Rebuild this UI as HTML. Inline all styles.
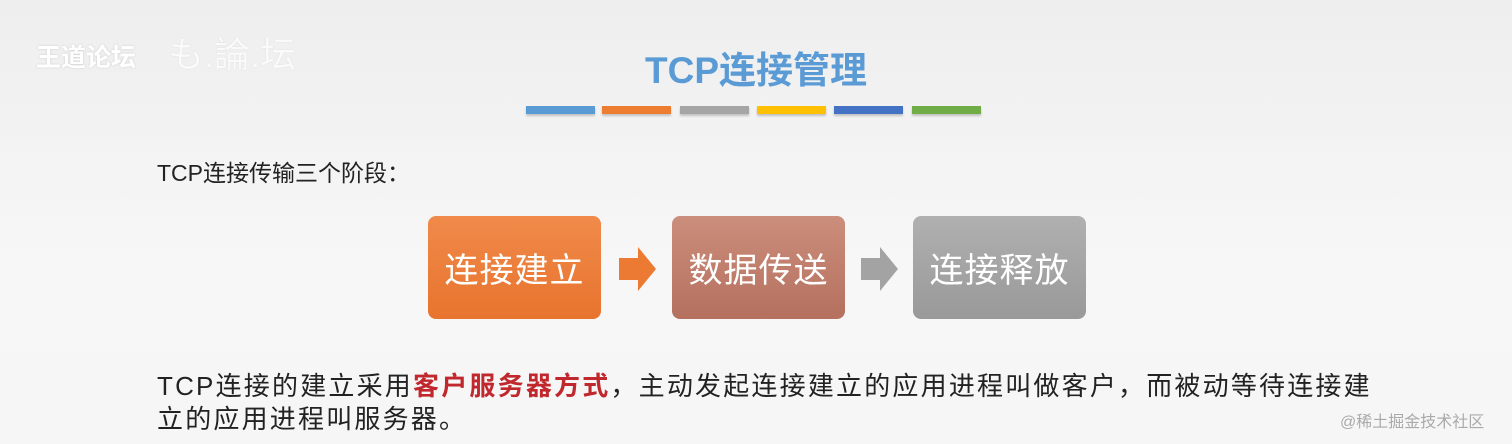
<!DOCTYPE html>
<html><head><meta charset="utf-8"><style>
body{margin:0;width:1512px;height:444px;background:linear-gradient(#eeeeee,#f7f7f7 60%,#f6f6f6);position:relative;overflow:hidden;font-family:"Liberation Sans","Noto Sans CJK SC",sans-serif;}
.a{position:absolute;white-space:nowrap;}
.bar{position:absolute;top:106px;height:8px;width:69px;box-shadow:0 2px 2px rgba(0,0,0,.2);}
.box{position:absolute;top:216px;width:173px;height:103px;border-radius:8px;color:#fff;font-size:34px;display:flex;align-items:center;justify-content:center;letter-spacing:1px;}
</style></head><body>
<div class="a" style="left:36px;top:38px;font-size:25px;color:#fff;font-weight:bold;text-shadow:0 0 2px #ccc;">王道论坛</div>
<div class="a" style="left:168px;top:26px;font-size:36px;color:#fafafa;text-shadow:0 0 1px #ccc;">も.論.坛</div>
<div class="a" style="left:645px;top:40px;font-size:37px;color:#5b9bd5;font-weight:bold;">TCP连接管理</div>
<div class="bar" style="left:526px;background:#5b9bd5"></div>
<div class="bar" style="left:602px;background:#ed7d31"></div>
<div class="bar" style="left:680px;background:#a5a5a5"></div>
<div class="bar" style="left:757px;background:#ffc000"></div>
<div class="bar" style="left:834px;background:#4472c4"></div>
<div class="bar" style="left:912px;background:#70ad47"></div>
<div class="a" style="left:157px;top:154px;font-size:23px;color:#222;">TCP连接传输三个阶段：</div>
<div class="box" style="left:428px;background:linear-gradient(#f08a4a,#e8742e);">连接建立</div>
<div class="box" style="left:672px;background:linear-gradient(#cc8e7c,#b5705e);">数据传送</div>
<div class="box" style="left:913px;background:linear-gradient(#b0b0b0,#999);">连接释放</div>
<svg class="a" style="left:619px;top:247px" width="38" height="44"><polygon points="0,11 19,11 19,0 37,22 19,44 19,33 0,33" fill="#ec7a33"/></svg>
<svg class="a" style="left:861px;top:247px" width="38" height="44"><polygon points="0,11 19,11 19,0 37,22 19,44 19,33 0,33" fill="#a3a3a3"/></svg>
<div class="a" style="left:157px;top:366px;font-size:26px;color:#222;letter-spacing:2.2px;">TCP连接的建立采用<span style="color:#c0282d;font-weight:bold;">客户服务器方式</span>，主动发起连接建立的应用进程叫做客户，而被动等待连接建</div>
<div class="a" style="left:157px;top:399px;font-size:26px;color:#222;letter-spacing:2.2px;">立的应用进程叫服务器。</div>
<div class="a" style="left:1340px;top:408px;font-size:16px;color:#aaa;">@稀土掘金技术社区</div>
</body></html>
